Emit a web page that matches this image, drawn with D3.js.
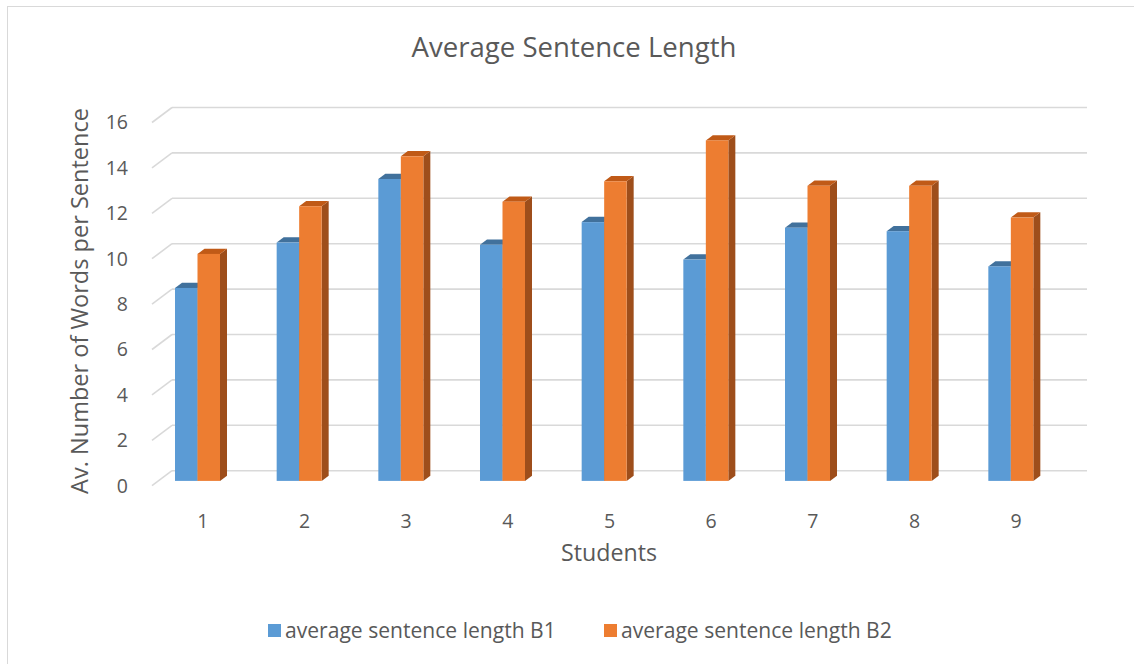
<!DOCTYPE html>
<html><head><meta charset="utf-8">
<script src="https://cdn.jsdelivr.net/npm/d3@7"></script>
<style>html,body{margin:0;padding:0;background:#fff;}svg{display:block;}</style>
</head><body>
<script>
const categories = ["1","2","3","4","5","6","7","8","9"];
const seriesNames = ["average sentence length B1","average sentence length B2"];
const valuesB1 = [8.5, 10.5, 13.3, 10.4, 11.4, 9.75, 11.15, 11.0, 9.45];
const valuesB2 = [10.0, 12.1, 14.3, 12.3, 13.2, 15.0, 13.0, 13.0, 11.6];
const yTicks = [0,2,4,6,8,10,12,14,16];
const titleText = "Average Sentence Length";
const yTitle = "Av. Number of Words per Sentence";
const xTitle = "Students";

const W = 1134, H = 664;
const FONT = "'Open Sans', 'Noto Sans', sans-serif";
const TXT = "#595959";
const colors = {
  front: ["#5B9BD5", "#ED7D31"],
  top:   ["#41719C", "#C05A17"],
  side:  ["#3E6A93", "#9E4E1B"]
};

const svg = d3.select("body").append("svg").attr("width", W).attr("height", H);
svg.append("rect").attr("x", 7.5).attr("y", 6.5).attr("width", 1140).attr("height", 700)
  .attr("fill", "#fff").attr("stroke", "#D9D9D9").attr("stroke-width", 1);

// depth vector (front -> back)
const DX = 20, DY = -15;
const yFront = d3.scaleLinear().domain([0,16]).range([485.7, 122.5]);
const yBack = v => yFront(v) + DY;
const x = d3.scaleBand().domain(categories).range([152, 1067]);
const barDepthStart = 0.32, barDepth = 0.35;
const yBar = v => yFront(v) + DY * barDepthStart;
const pairOffset = 16.6;
const xSub = d3.scaleBand().domain(seriesNames).range([0, 45]);

// gridlines on back wall + side wall diagonals
const grid = svg.append("g").attr("stroke", "#D9D9D9").attr("stroke-width", 1.6).attr("fill", "none");
yTicks.forEach(v => {
  grid.append("line").attr("x1", x.range()[0] + DX).attr("x2", x.range()[1] + DX)
    .attr("y1", yBack(v)).attr("y2", yBack(v));
  grid.append("line").attr("x1", x.range()[0]).attr("x2", x.range()[0] + DX)
    .attr("y1", yFront(v)).attr("y2", yBack(v));
});

// tick labels
svg.append("g").selectAll("text").data(yTicks).join("text")
  .attr("x", 128).attr("y", d => yFront(d)).attr("dy", "0.35em")
  .attr("text-anchor", "end").attr("font-family", FONT).attr("font-size", 19.5)
  .attr("fill", TXT).text(d => d);

svg.append("g").selectAll("text").data(categories).join("text")
  .attr("x", d => x(d) + x.bandwidth()/2).attr("y", 528)
  .attr("text-anchor", "middle").attr("font-family", FONT).attr("font-size", 19.5)
  .attr("fill", TXT).text(d => d);

// bars
const seriesVals = [valuesB1, valuesB2];
const ddx = DX * barDepth, ddy = DY * barDepth;
const barsG = svg.append("g");
categories.forEach((c, i) => {
  seriesNames.forEach((s, k) => {
    const v = seriesVals[k][i];
    const x0 = x(c) + pairOffset + xSub(s) + DX * barDepthStart;
    const x1 = x0 + xSub.bandwidth();
    const yt = yBar(v), yb = yBar(0);
    barsG.append("path").attr("fill", colors.side[k])
      .attr("d", `M${x1},${yt}L${x1+ddx},${yt+ddy}L${x1+ddx},${yb+ddy}L${x1},${yb}Z`);
    barsG.append("path").attr("fill", colors.top[k])
      .attr("d", `M${x0},${yt}L${x0+ddx},${yt+ddy}L${x1+ddx},${yt+ddy}L${x1},${yt}Z`);
    barsG.append("rect").attr("x", x0).attr("y", yt).attr("width", x1 - x0).attr("height", yb - yt)
      .attr("fill", colors.front[k]);
  });
});

function fitText(sel, target) {
  const w = sel.node().getComputedTextLength();
  const fs = parseFloat(sel.attr("font-size"));
  sel.attr("font-size", fs * target / w);
}

const t = svg.append("text").attr("x", 574).attr("y", 57).attr("text-anchor", "middle")
  .attr("font-family", FONT).attr("font-size", 26).attr("fill", TXT).text(titleText);
fitText(t, 325);

const yt = svg.append("text").attr("transform", "translate(88,301) rotate(-90)")
  .attr("text-anchor", "middle").attr("font-family", FONT).attr("font-size", 20)
  .attr("fill", TXT).text(yTitle);
fitText(yt, 386);

const xt = svg.append("text").attr("x", 609).attr("y", 561).attr("text-anchor", "middle")
  .attr("font-family", FONT).attr("font-size", 20).attr("fill", TXT).text(xTitle);
fitText(xt, 96);

const legendX = [268, 604];
seriesNames.forEach((s, k) => {
  svg.append("rect").attr("x", legendX[k]).attr("y", 624).attr("width", 13).attr("height", 13)
    .attr("fill", colors.front[k]);
  const lt = svg.append("text").attr("x", legendX[k] + 17).attr("y", 638)
    .attr("font-family", FONT).attr("font-size", 19).attr("fill", TXT).text(s);
  fitText(lt, 271);
});
</script>
</body></html>
